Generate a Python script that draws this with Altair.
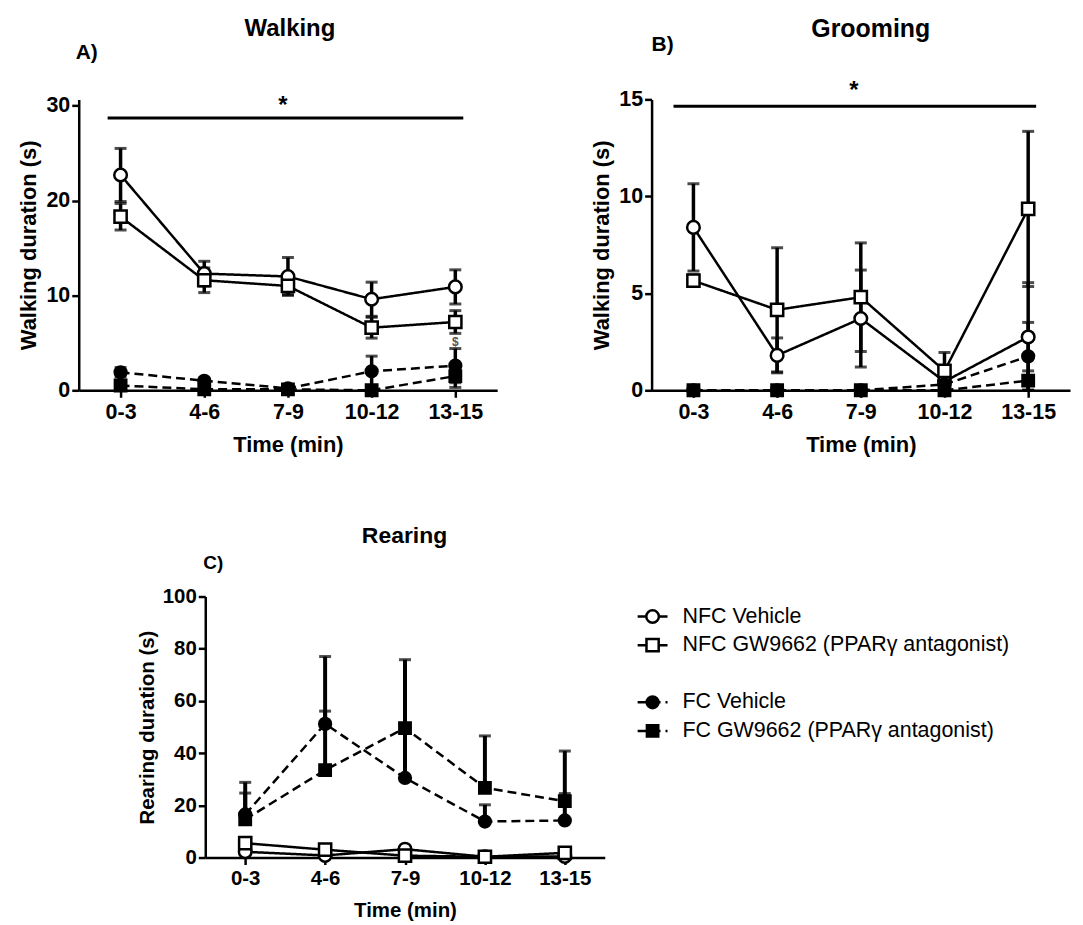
import altair as alt
import pandas as pd

FONT = "Liberation Sans"
CATS = ["0-3", "4-6", "7-9", "10-12", "13-15"]
SERIES = ["NFC Vehicle", "NFC GW9662 (PPARγ antagonist)",
          "FC Vehicle", "FC GW9662 (PPARγ antagonist)"]

# ---- Panel A: Walking (mean, SEM) ----
walk_nfc_veh = [22.7, 12.3, 12.0, 9.6, 10.9]
walk_nfc_veh_sem = [2.8, 1.3, 2.0, 1.8, 1.8]
walk_nfc_gw = [18.3, 11.6, 11.0, 6.6, 7.2]
walk_nfc_gw_sem = [1.4, 1.3, 0.9, 1.1, 1.2]
walk_fc_veh = [1.9, 1.0, 0.2, 2.0, 2.6]
walk_fc_veh_sem = [0.5, 0.3, 0.1, 1.6, 1.8]
walk_fc_gw = [0.5, 0.1, 0.1, 0.0, 1.5]
walk_fc_gw_sem = [0.5, 0.1, 0.1, 0.1, 1.2]

# ---- Panel B: Grooming ----
groom_nfc_veh = [8.4, 1.8, 3.7, 0.45, 2.75]
groom_nfc_veh_sem = [2.25, 0.9, 2.5, 0.4, 2.8]
groom_nfc_gw = [5.65, 4.15, 4.8, 1.0, 9.35]
groom_nfc_gw_sem = [0.3, 3.2, 2.8, 0.95, 4.0]
groom_fc_veh = [0.0, 0.0, 0.0, 0.3, 1.75]
groom_fc_veh_sem = [0.0, 0.0, 0.0, 0.2, 1.75]
groom_fc_gw = [0.0, 0.0, 0.0, 0.0, 0.5]
groom_fc_gw_sem = [0.0, 0.0, 0.0, 0.0, 0.5]

# ---- Panel C: Rearing ----
rear_nfc_veh = [2.2, 0.8, 3.2, 0.3, 0.4]
rear_nfc_veh_sem = [0.8, 0.4, 0.6, 0.2, 0.3]
rear_nfc_gw = [5.5, 3.0, 0.7, 0.3, 1.8]
rear_nfc_gw_sem = [0.8, 0.6, 0.4, 0.2, 0.4]
rear_fc_veh = [16.5, 51.2, 30.5, 13.8, 14.2]
rear_fc_veh_sem = [8.2, 25.8, 20.0, 6.4, 10.3]
rear_fc_gw = [14.6, 33.5, 49.6, 26.7, 21.6]
rear_fc_gw_sem = [14.2, 22.6, 26.2, 19.9, 19.2]


def build_df(means, sems, both):
    rows = []
    for s, ml, el in zip(SERIES, means, sems):
        for c, m, e in zip(CATS, ml, el):
            rows.append({"time": c, "series": s, "mean": m, "sem": e,
                         "hi": m + e, "lo": max(m - e, 0.0) if both else m})
    return pd.DataFrame(rows)


AX = dict(domainColor="black", domainWidth=2.5, tickColor="black", tickWidth=2.5,
          tickSize=7, labelColor="black", titleColor="black", labelFont=FONT,
          titleFont=FONT, labelFontWeight="bold", titleFontWeight="bold", grid=False,
          labelFlush=False, labelOverlap=False)

SHAPE = alt.Scale(domain=SERIES, range=["circle", "square", "circle", "square"])
FILL = alt.Scale(domain=SERIES, range=["white", "white", "black", "black"])
DASH = alt.Scale(domain=SERIES, range=[[1, 0], [1, 0], [9, 5], [9, 5]])


def text_layer(txt, x, y, size, weight="bold", align="center", color="black"):
    return alt.Chart(pd.DataFrame({"t": [txt]})).mark_text(
        font=FONT, fontSize=size, fontWeight=weight, align=align,
        baseline="middle", color=color
    ).encode(x=alt.value(x), y=alt.value(y), text="t:N")


def panel(df, ymax, yticks, ytitle, w, h, lab_fs, tit_fs, sizes, errw, extras):
    xenc = alt.X("time:N", sort=CATS,
                 scale=alt.Scale(type="point", domain=CATS, padding=0.5),
                 axis=alt.Axis(title="Time (min)", labelAngle=0, labelFontSize=lab_fs,
                               titleFontSize=tit_fs, labelPadding=4, titlePadding=12, **AX))
    yscale = alt.Scale(domain=[0, ymax], nice=False, zero=True)
    yaxis = alt.Axis(values=yticks, title=ytitle, labelFontSize=lab_fs,
                     titleFontSize=tit_fs, labelPadding=2, titlePadding=5, **AX)
    base = alt.Chart(df)
    lines = base.mark_line(color="black", strokeWidth=2.5).encode(
        x=xenc, y=alt.Y("mean:Q", scale=yscale, axis=yaxis),
        strokeDash=alt.StrokeDash("series:N", scale=DASH, legend=None))
    err = base.transform_filter("datum.sem > 0").mark_rule(
        color="black", strokeWidth=errw).encode(
        x=xenc, y=alt.Y("lo:Q", scale=yscale, axis=yaxis), y2="hi:Q")
    cap_hi = base.transform_filter("datum.sem > 0").mark_tick(
        color="black", thickness=3, size=12).encode(
        x=xenc, y=alt.Y("hi:Q", scale=yscale, axis=yaxis))
    cap_lo = base.transform_filter("datum.mean - datum.lo > 0.05").mark_tick(
        color="black", thickness=3, size=12).encode(
        x=xenc, y=alt.Y("lo:Q", scale=yscale, axis=yaxis))
    pts = base.mark_point(filled=True, stroke="black", strokeWidth=2.5, opacity=1).encode(
        x=xenc, y=alt.Y("mean:Q", scale=yscale, axis=yaxis),
        shape=alt.Shape("series:N", scale=SHAPE, legend=None),
        fill=alt.Fill("series:N", scale=FILL, legend=None),
        size=alt.Size("series:N", scale=alt.Scale(domain=SERIES, range=sizes), legend=None))
    layers = [lines, err, cap_hi, cap_lo, pts] + extras(yscale, yaxis)
    return alt.layer(*layers).properties(width=w, height=h)


one = pd.DataFrame({"a": [0]})


def sig_line(x1, x2, yv, yscale, yaxis):
    return alt.Chart(one).mark_rule(color="black", strokeWidth=3).encode(
        x=alt.value(x1), x2=alt.value(x2),
        y=alt.Y(datum=yv, type="quantitative", scale=yscale, axis=yaxis))


def extras_a(ys, ya):
    return [
        sig_line(29, 386, 28.7, ys, ya),
        text_layer("*", 205, 7, 24),
        text_layer("Walking", 212, -71, 24),
        text_layer("A)", -3, -47, 21, align="left"),
        alt.Chart(pd.DataFrame({"time": ["13-15"], "v": [5.1], "t": ["$"]})).mark_text(
            font=FONT, fontSize=12, color="#555555", fontWeight="bold"
        ).encode(x=alt.X("time:N", sort=CATS), y=alt.Y("v:Q", scale=ys, axis=ya), text="t:N"),
    ]


def extras_b(ys, ya):
    return [
        sig_line(22, 386, 14.65, ys, ya),
        text_layer("*", 203, -8, 24),
        text_layer("Grooming", 220, -71, 25),
        text_layer("B)", 0, -55, 21, align="left"),
    ]


def extras_c(ys, ya):
    return [
        text_layer("Rearing", 200, -61, 23),
        text_layer("C)", -2, -34, 19, align="left"),
    ]


df_a = build_df([walk_nfc_veh, walk_nfc_gw, walk_fc_veh, walk_fc_gw],
                [walk_nfc_veh_sem, walk_nfc_gw_sem, walk_fc_veh_sem, walk_fc_gw_sem], True)
df_b = build_df([groom_nfc_veh, groom_nfc_gw, groom_fc_veh, groom_fc_gw],
                [groom_nfc_veh_sem, groom_nfc_gw_sem, groom_fc_veh_sem, groom_fc_gw_sem], True)
df_c = build_df([rear_nfc_veh, rear_nfc_gw, rear_fc_veh, rear_fc_gw],
                [rear_nfc_veh_sem, rear_nfc_gw_sem, rear_fc_veh_sem, rear_fc_gw_sem], False)

A = panel(df_a, 30.67, [0, 10, 20, 30], "Walking duration (s)", 420, 292, 21.5, 22,
          [160, 130, 100, 90], 3.5, extras_a)
B = panel(df_b, 15.0, [0, 5, 10, 15], "Walking duration (s)", 420, 292, 21.5, 22,
          [170, 140, 110, 100], 3.5, extras_b)
C = panel(df_c, 100, [0, 20, 40, 60, 80, 100], "Rearing duration (s)", 401, 262, 20.5, 20.5,
          [120, 110, 150, 140], 4, extras_c)

# ---- custom legend ----
LEG_ORDER = [SERIES[0], SERIES[1], " ", SERIES[2], SERIES[3]]
leg_df = pd.DataFrame({"series": SERIES})
yleg = alt.Y("series:N", sort=LEG_ORDER,
             scale=alt.Scale(type="point", domain=LEG_ORDER, padding=0.7), axis=None)
lb = alt.Chart(leg_df)
leg_line = lb.mark_rule(color="black", strokeWidth=2.5).encode(
    x=alt.value(11), x2=alt.value(41), y=yleg,
    strokeDash=alt.StrokeDash("series:N", scale=alt.Scale(
        domain=SERIES, range=[[1, 0], [1, 0], [6, 4], [6, 4]]), legend=None))
leg_pts = lb.mark_point(filled=True, stroke="black", strokeWidth=2.5, opacity=1).encode(
    x=alt.value(26), y=yleg,
    shape=alt.Shape("series:N", scale=SHAPE, legend=None),
    fill=alt.Fill("series:N", scale=FILL, legend=None),
    size=alt.Size("series:N", scale=alt.Scale(domain=SERIES, range=[90, 80, 80, 80]), legend=None))
leg_txt = lb.mark_text(align="left", baseline="middle", font=FONT, fontSize=21.5,
                       color="black").encode(x=alt.value(56), y=yleg, text="series:N")
legend = alt.layer(leg_line, leg_pts, leg_txt).properties(width=440, height=155)

spacer = alt.Chart(one).mark_point(opacity=0).encode(
    x=alt.value(0), y=alt.value(0)).properties(width=105, height=10)

row1 = alt.hconcat(A, B, spacing=155, bounds="flush")
row2 = alt.hconcat(spacer, C, legend, spacing=22, bounds="flush")
chart = alt.vconcat(row1, row2, spacing=69).properties(
    padding={"left": 10, "top": 7, "right": 5, "bottom": 5}
).configure(font=FONT).configure_view(stroke=None)

chart.save("out.html", embed_options={"renderer": "svg", "actions": False})
